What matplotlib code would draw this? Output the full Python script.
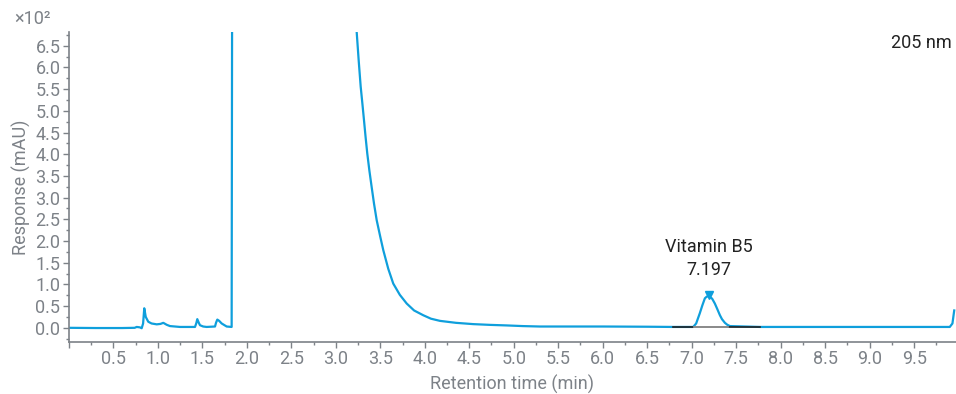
import numpy as np
import matplotlib
matplotlib.use("Agg")
import matplotlib.pyplot as plt
from matplotlib.ticker import MultipleLocator, FuncFormatter

plt.rcParams['font.family'] = ['Roboto', 'DejaVu Sans']

# chromatogram at 205 nm (retention time in min, response in mAU)
time_min = [0.00, 0.30, 0.60, 0.74, 0.763, 0.80, 0.819, 0.835, 0.848, 0.865,
            0.893, 0.93, 0.988, 1.03, 1.062, 1.10, 1.137, 1.25, 1.418, 1.432,
            1.444, 1.46, 1.474, 1.51, 1.549, 1.643, 1.655, 1.669, 1.69, 1.718,
            1.774, 1.83, 1.837, 3.20, 3.235, 3.258, 3.28, 3.30, 3.317, 3.335,
            3.354, 3.378, 3.403, 3.43, 3.46, 3.50, 3.534, 3.59, 3.646, 3.72,
            3.797, 3.88, 3.983, 4.07, 4.171, 4.35, 4.545, 4.73, 4.92, 5.1,
            5.294, 6.0, 6.5, 6.79, 7.017, 7.05, 7.09, 7.12, 7.148, 7.17,
            7.197, 7.23, 7.26, 7.29, 7.317, 7.34, 7.373, 7.40, 7.43, 7.77,
            9.0, 9.90, 9.93, 9.95]
response_mau = [0, -0.5, -0.5, 0, 2, 1, -1, 10, 45, 25,
                14, 10, 8, 9, 11.5, 7, 4, 2, 2, 10,
                20, 12, 6, 3, 2, 3, 12, 19, 16, 10,
                3, 2, 1000, 1000, 682, 615, 556, 515, 479, 440,
                402, 362, 325, 286, 248, 210, 179, 136, 102, 76,
                56, 40, 29, 21, 16, 11.5, 8.5, 6.8, 5.5, 4,
                3, 3, 2.5, 2, 2, 10, 33, 52, 68, 72,
                73, 67, 56, 42, 29, 20, 11.5, 7, 4, 2,
                2, 2, 10, 40]

peak_name = "Vitamin B5"
peak_rt = 7.197
peak_height = 75
baseline_start, baseline_end, baseline_level = 6.79, 7.77, 2
peak_start, peak_end = 7.03, 7.41

line_color = "#0f9fdc"
grey = "#7d8288"

fig = plt.figure(figsize=(9.56, 3.94), dpi=100)
ax = fig.add_axes([68.8 / 956, 1 - 341.7 / 394, (956 - 68.8) / 956, (341.7 - 32.3) / 394])

ax.plot(time_min, response_mau, color=line_color, linewidth=1.6, zorder=2)

# integration baseline of the peak
ax.plot([baseline_start, baseline_end], [baseline_level, baseline_level],
        color="#222222", linewidth=1.2, zorder=3)
ax.plot([peak_start, peak_end], [baseline_level, baseline_level],
        color="#9a9a9a", linewidth=1.2, zorder=3)

ax.plot([peak_rt], [peak_height], marker="v", color=line_color, markersize=6, zorder=4)
ax.annotate(f"{peak_name}\n{peak_rt:.3f}", xy=(peak_rt, peak_height),
            xytext=(0, 12), textcoords="offset points", ha="center", va="bottom",
            fontsize=13, color="#222222", linespacing=1.3)

ax.set_xlim(0, 9.97)
ax.set_ylim(-32, 681)

ax.xaxis.set_major_locator(MultipleLocator(0.5))
ax.xaxis.set_minor_locator(MultipleLocator(0.25))
ax.yaxis.set_major_locator(MultipleLocator(50))
ax.yaxis.set_minor_locator(MultipleLocator(25))
ax.xaxis.set_major_formatter(FuncFormatter(lambda v, p: "" if v < 0.1 else f"{v:.1f}"))
ax.yaxis.set_major_formatter(FuncFormatter(lambda v, p: f"{v / 100:.1f}"))

for side in ["top", "right"]:
    ax.spines[side].set_visible(False)
for side in ["left", "bottom"]:
    ax.spines[side].set_color(grey)
    ax.spines[side].set_linewidth(1.2)

ax.tick_params(which="major", length=4, width=1, color=grey, labelcolor=grey, labelsize=13, pad=2)
ax.tick_params(which="minor", length=2.5, width=1, color=grey)

ax.set_xlabel("Retention time (min)", fontsize=13, color=grey, labelpad=5)
ax.set_ylabel("Response (mAU)", fontsize=13, color=grey, labelpad=3)

fig.text(51 / 956, 1 - 19 / 394, "×10²", ha="right", va="center", fontsize=13, color=grey)
fig.text(952 / 956, 1 - 43 / 394, "205 nm", ha="right", va="center", fontsize=13, color="#222222")

fig.savefig("out.png", dpi=100)
